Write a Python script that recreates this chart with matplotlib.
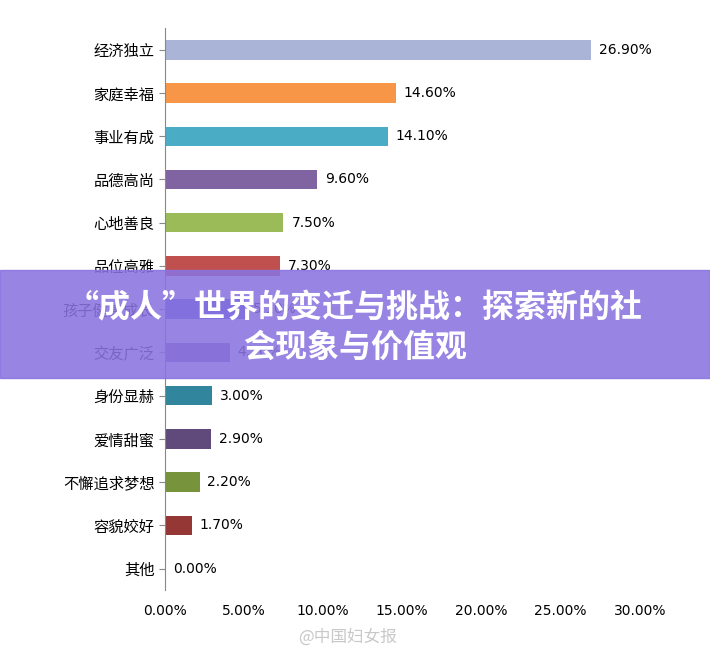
import matplotlib.pyplot as plt
from matplotlib.patches import Rectangle
from matplotlib.ticker import FuncFormatter

plt.rcParams['font.family'] = 'Noto Sans CJK SC'

labels = ['经济独立', '家庭幸福', '事业有成', '品德高尚', '心地善良', '品位高雅', '孩子健康成长',
          '交友广泛', '身份显赫', '爱情甜蜜', '不懈追求梦想', '容貌姣好', '其他']
values = [26.9, 14.6, 14.1, 9.6, 7.5, 7.3, 5.1, 4.1, 3.0, 2.9, 2.2, 1.7, 0.0]
colors = ['#a9b4d6', '#f79646', '#4bacc6', '#8064a2', '#9bbb59', '#c0504d', '#4f5bd5',
          '#8064a2', '#31859c', '#604a7b', '#77933c', '#953735', '#953735']

fig = plt.figure(figsize=(7.1, 6.55), dpi=100)
ax = fig.add_axes([0.232, 0.099, 0.669, 0.858])
y = list(range(len(labels)))
ax.barh(y, values, height=0.45, color=colors)
for yi, v in zip(y, values):
    ax.text(v + 0.5, yi, f'{v:.2f}%', va='center', fontsize=10, fontfamily='DejaVu Sans')
ax.set_yticks(y)
ax.set_yticklabels(labels, fontsize=11)
ax.set_ylim(len(labels) - 0.5, -0.5)
ax.set_xlim(0, 30)
ax.set_xticks(range(0, 31, 5))
ax.xaxis.set_major_formatter(FuncFormatter(lambda x, p: f'{x:.2f}%'))
ax.tick_params(axis='x', labelsize=10, length=0, pad=10)
ax.tick_params(axis='y', length=4, color='#888888')
for lab in ax.get_xticklabels():
    lab.set_fontfamily('DejaVu Sans')
for s in ['top', 'right', 'bottom']:
    ax.spines[s].set_visible(False)
ax.spines['left'].set_color('#888888')

# banner overlay
fig.patches.append(Rectangle((0, 1 - 378 / 655), 1, 108 / 655, transform=fig.transFigure,
                             color='#8a73e0', alpha=0.88, zorder=5))
fig.text(0.5, 1 - 308 / 655, '“成人”世界的变迁与挑战：探索新的社', ha='center', va='center',
         color='white', fontsize=23, fontweight='bold', zorder=6)
fig.text(0.5, 1 - 348 / 655, '会现象与价值观', ha='center', va='center',
         color='white', fontsize=23, fontweight='bold', zorder=6)
fig.text(0.42, 1 - 637 / 655, '@中国妇女报', color='#bbbbbb', fontsize=12, va='center', alpha=0.8)

fig.savefig('out.png', dpi=100, facecolor='white')
